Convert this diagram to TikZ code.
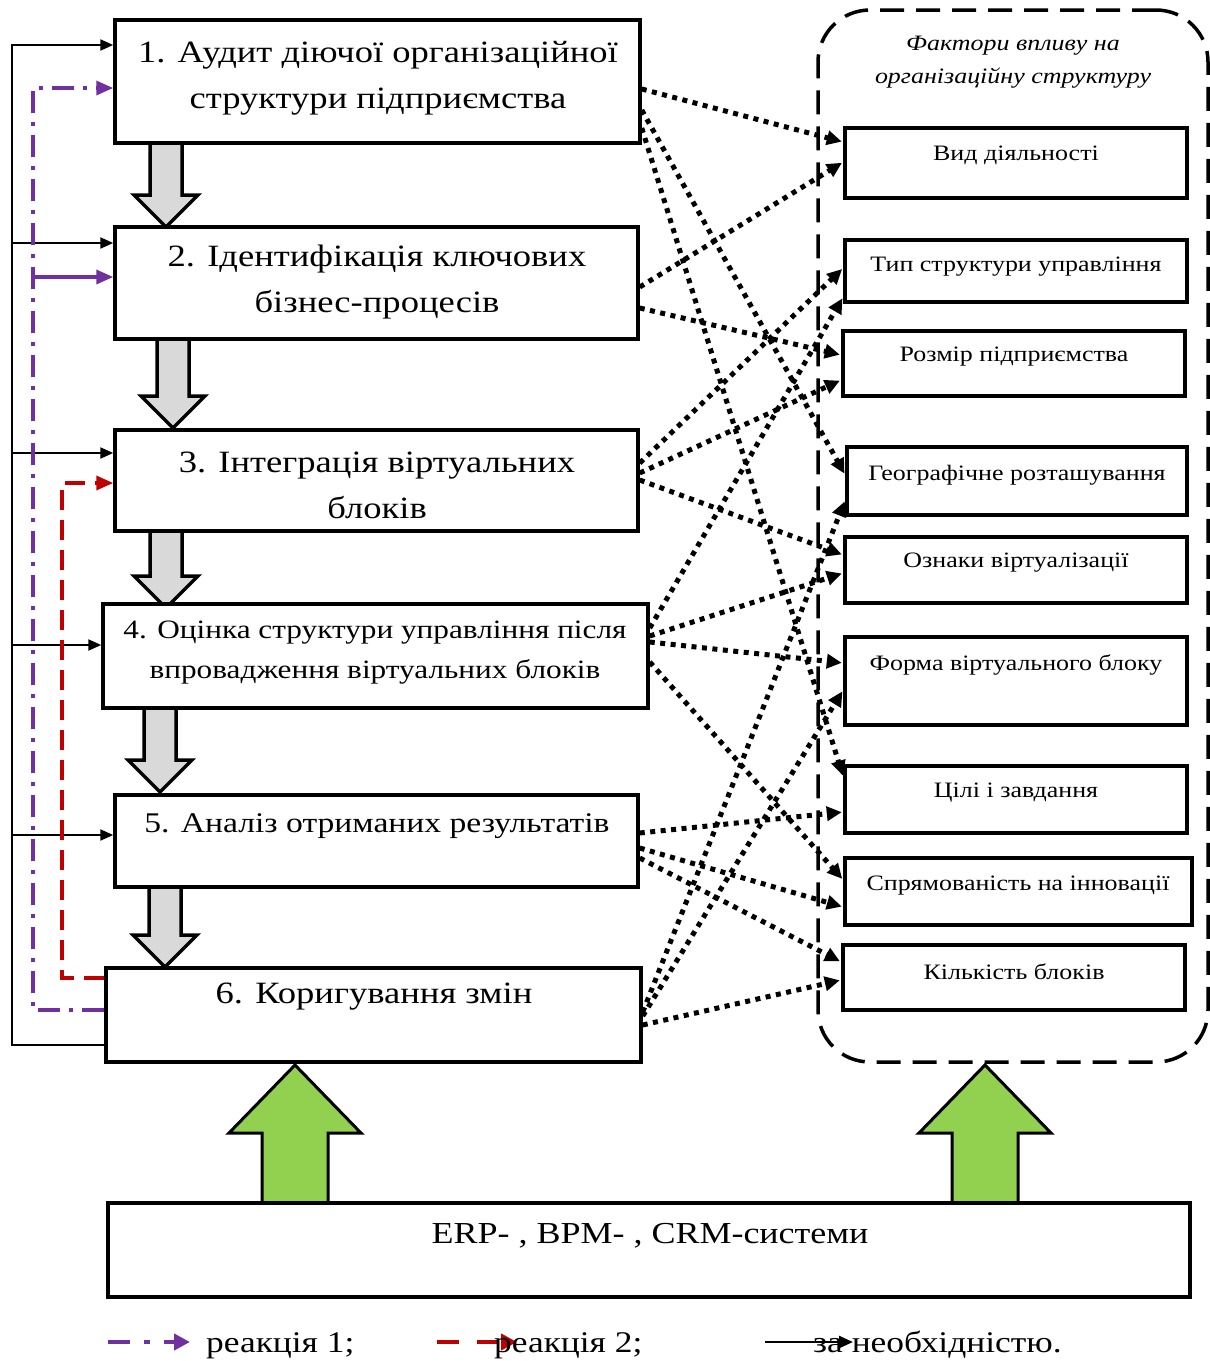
\documentclass[tikz,border=0pt]{standalone}
\usepackage{fontspec}
\setmainfont[FakeStretch=1.18]{Liberation Serif}
\usetikzlibrary{arrows.meta,calc}
\definecolor{purp}{HTML}{7030A0}
\definecolor{redd}{HTML}{C00000}
\definecolor{grn}{HTML}{92D050}
\definecolor{gry}{HTML}{D9D9D9}
\newcommand\garr[3]{\draw[gblock] (#1-16,#2) -- (#1-16,#3-32) -- (#1-32,#3-32) -- (#1,#3) -- (#1+32,#3-32) -- (#1+16,#3-32) -- (#1+16,#2) -- cycle;}
\newcommand\greenarr[3]{\draw[grarrow] (#1-33,#2) -- (#1-33,#3+68) -- (#1-66,#3+68) -- (#1,#3) -- (#1+66,#3+68) -- (#1+33,#3+68) -- (#1+33,#2) -- cycle;}
\begin{document}
\begin{tikzpicture}[x=1pt,y=-1pt,
  lbox/.style={draw, line width=3.5pt, inner sep=0pt, fill=white},
  ltext/.style={font=\fontsize{31}{46}\selectfont, align=center, inner sep=0pt},
  rbox/.style={draw, line width=3.5pt, inner sep=0pt, fill=white},
  rtext/.style={font=\fontsize{22}{26}\selectfont, inner sep=0pt},
  dotc/.style={line width=5pt, dash pattern=on 5pt off 5.5pt, -{Triangle[length=15pt,width=14pt]}, shorten >=1.5pt},
  gblock/.style={draw, line width=3.5pt, fill=gry, line join=miter},
  grarrow/.style={draw, line width=3pt, fill=grn, line join=miter},
  fbk/.style={line width=2.2pt, -{Triangle[length=13pt,width=11pt]}},
  purl/.style={draw=purp, line width=3.5pt, dash pattern=on 22pt off 9pt on 4pt off 9pt},
  redl/.style={draw=redd, line width=3.5pt, dash pattern=on 20pt off 10pt},
  legtext/.style={font=\fontsize{30}{36}\selectfont, inner sep=0pt, anchor=base west}
]
\useasboundingbox (0,0) rectangle (1210,1361);

% container
\node[draw, line width=3.5pt, dash pattern=on 24pt off 12pt, rounded corners=52pt,
      minimum width=390pt, minimum height=1052pt, inner sep=0pt] (cont) at (1013,536) {};
\node[font=\itshape\fontsize{22}{33}\selectfont, align=center, inner sep=0pt] (ttl) at (1013,62) {Фактори впливу на\\організаційну структуру};

% gray block arrows
\garr{166}{143}{227}
\garr{173}{339}{428}
\garr{166}{531}{608}
\garr{160}{708}{792}
\garr{165}{887}{967}

% green arrows
\greenarr{295}{1203}{1065}
\greenarr{985}{1203}{1065}

% left boxes
\node[lbox, minimum width=525pt, minimum height=123pt] (b1) at (377.5,81.5) {};
\node[lbox, minimum width=523pt, minimum height=112pt] (b2) at (376.5,283) {};
\node[lbox, minimum width=523pt, minimum height=101pt] (b3) at (376.5,480.5) {};
\node[lbox, minimum width=545pt, minimum height=104pt] (b4) at (375.5,656) {};
\node[lbox, minimum width=523pt, minimum height=92pt] (b5) at (376.5,841) {};
\node[lbox, minimum width=535pt, minimum height=94pt] (b6) at (373.5,1015) {};

\node[ltext] (t1) at (378,78) {1. Аудит діючої організаційної\\структури підприємства};
\node[ltext] (t2) at (377,282) {2. Ідентифікація ключових\\бізнес-процесів};
\node[ltext] (t3) at (377,485) {3. Інтеграція віртуальних\\блоків};
\node[ltext, font=\fontsize{26.5}{40}\selectfont] (t4) at (375,653) {4. Оцінка структури управління після\\впровадження віртуальних блоків};
\node[ltext, font=\fontsize{28.5}{40}\selectfont] (t5) at (377,826) {5. Аналіз отриманих результатів};
\node[ltext] (t6) at (374,997) {6. Коригування змін};

% right boxes
\node[rbox, minimum width=342pt, minimum height=70pt] (r1) at (1016,163) {};
\node[rbox, minimum width=342pt, minimum height=62pt] (r2) at (1016,271) {};
\node[rbox, minimum width=342pt, minimum height=65pt] (r3) at (1014,363.5) {};
\node[rbox, minimum width=340pt, minimum height=68pt] (r4) at (1017,481) {};
\node[rbox, minimum width=342pt, minimum height=66pt] (r5) at (1016,570) {};
\node[rbox, minimum width=342pt, minimum height=88pt] (r6) at (1016,681) {};
\node[rbox, minimum width=342pt, minimum height=67pt] (r7) at (1016,799.5) {};
\node[rbox, minimum width=347pt, minimum height=67pt] (r8) at (1018.5,891.5) {};
\node[rbox, minimum width=342pt, minimum height=65pt] (r9) at (1014,977.5) {};

\node[rtext] (rt1) at (1016,155) {Вид діяльності};
\node[rtext] (rt2) at (1016,267) {Тип структури управління};
\node[rtext] (rt3) at (1014,357) {Розмір підприємства};
\node[rtext] (rt4) at (1017,475) {Географічне розташування};
\node[rtext] (rt5) at (1016,563) {Ознаки віртуалізації};
\node[rtext] (rt6) at (1016,665) {Форма віртуального блоку};
\node[rtext] (rt7) at (1016,793) {Цілі і завдання};
\node[rtext] (rt8) at (1018,886) {Спрямованість на інновації};
\node[rtext] (rt9) at (1014,972) {Кількість блоків};

% dotted connectors
\draw[dotc] (b1.east |- 0,89) -- (r1.west |- 0,142);
\draw[dotc] (b1.east |- 0,110) -- (r4.west |- 0,475);
\draw[dotc] (b1.east |- 0,128) -- (r7.west |- 0,777);
\draw[dotc] (b2.east |- 0,287) -- (r1.west |- 0,162);
\draw[dotc] (b2.east |- 0,308) -- (r3.west |- 0,355);
\draw[dotc] (b3.east |- 0,463) -- (r2.west |- 0,268);
\draw[dotc] (b3.east |- 0,473) -- (r3.west |- 0,380);
\draw[dotc] (b3.east |- 0,480) -- (r5.west |- 0,555);
\draw[dotc] (b4.east |- 0,628) -- (r2.west |- 0,297);
\draw[dotc] (b4.east |- 0,636) -- (r5.west |- 0,573);
\draw[dotc] (b4.east |- 0,642) -- (r6.west |- 0,663);
\draw[dotc] (b4.east |- 0,662) -- (r8.west |- 0,880);
\draw[dotc] (b5.east |- 0,833) -- (r7.west |- 0,812);
\draw[dotc] (b5.east |- 0,848) -- (r8.west |- 0,907);
\draw[dotc] (b5.east |- 0,858) -- (r9.west |- 0,962);
\draw[dotc] (b6.east |- 0,1012) -- (r4.west |- 0,500);
\draw[dotc] (b6.east |- 0,1016) -- (r6.west |- 0,690);
\draw[dotc] (b6.east |- 0,1025) -- (r9.west |- 0,980);

% ERP box
\node[lbox, minimum width=1082pt, minimum height=94pt] (erp) at (649,1250) {};
\node[ltext, font=\fontsize{30.5}{46}\selectfont] (erpt) at (650,1236) {ERP- , BPM- , CRM-системи};

% left feedback (black)
\coordinate (k2) at (12,243);
\coordinate (k3) at (12,453);
\coordinate (k4) at (12,645);
\coordinate (k5) at (12,835);
\draw[fbk] (b6.west |- 0,1045) -- (12,1045) -- (12,45) -- (b1.west |- 0,45);
\draw[fbk] (k2) -- (b2.west |- k2);
\draw[fbk] (k3) -- (b3.west |- k3);
\draw[fbk] (k4) -- (b4.west |- k4);
\draw[fbk] (k5) -- (b5.west |- k5);

% purple reaction 1
\coordinate (p2) at (33,277);
\draw[purl, color=purp, -{Triangle[length=17pt,width=14pt]}] (b6.west |- 0,1010) -- (33,1010) -- (33,88) -- (b1.west |- 0,88);
\draw[purl, color=purp, dash pattern=on 22pt off 0pt, -{Triangle[length=17pt,width=14pt]}] (p2) -- (b2.west |- p2);

% red reaction 2
\draw[redl, color=redd, -{Triangle[length=17pt,width=14pt]}] (b6.west |- 0,978) -- (62,978) -- (62,483) -- (b3.west |- 0,483);

% legend
\coordinate (la1) at (108,1342);
\coordinate (lb1) at (190,1342);
\draw[color=purp, line width=4.5pt, dash pattern=on 22pt off 14pt on 6pt off 14pt, -{Triangle[length=16pt,width=16pt]}] (la1) -- (lb1);
\node[legtext] (lt1) at (206,1352) {реакція 1;};
\coordinate (la2) at (437,1342);
\coordinate (lb2) at (517,1342);
\draw[color=redd, line width=4.5pt, dash pattern=on 22pt off 18pt, -{Triangle[length=16pt,width=16pt]}] (la2) -- (lb2);
\node[legtext] (lt2) at (494,1352) {реакція 2;};
\coordinate (la3) at (765,1342);
\coordinate (lb3) at (853,1342);
\draw[line width=2.5pt, -{Triangle[length=14pt,width=12pt]}] (la3) -- (lb3);
\node[legtext] (lt3) at (813,1352) {за необхідністю.};
\end{tikzpicture}
\end{document}
